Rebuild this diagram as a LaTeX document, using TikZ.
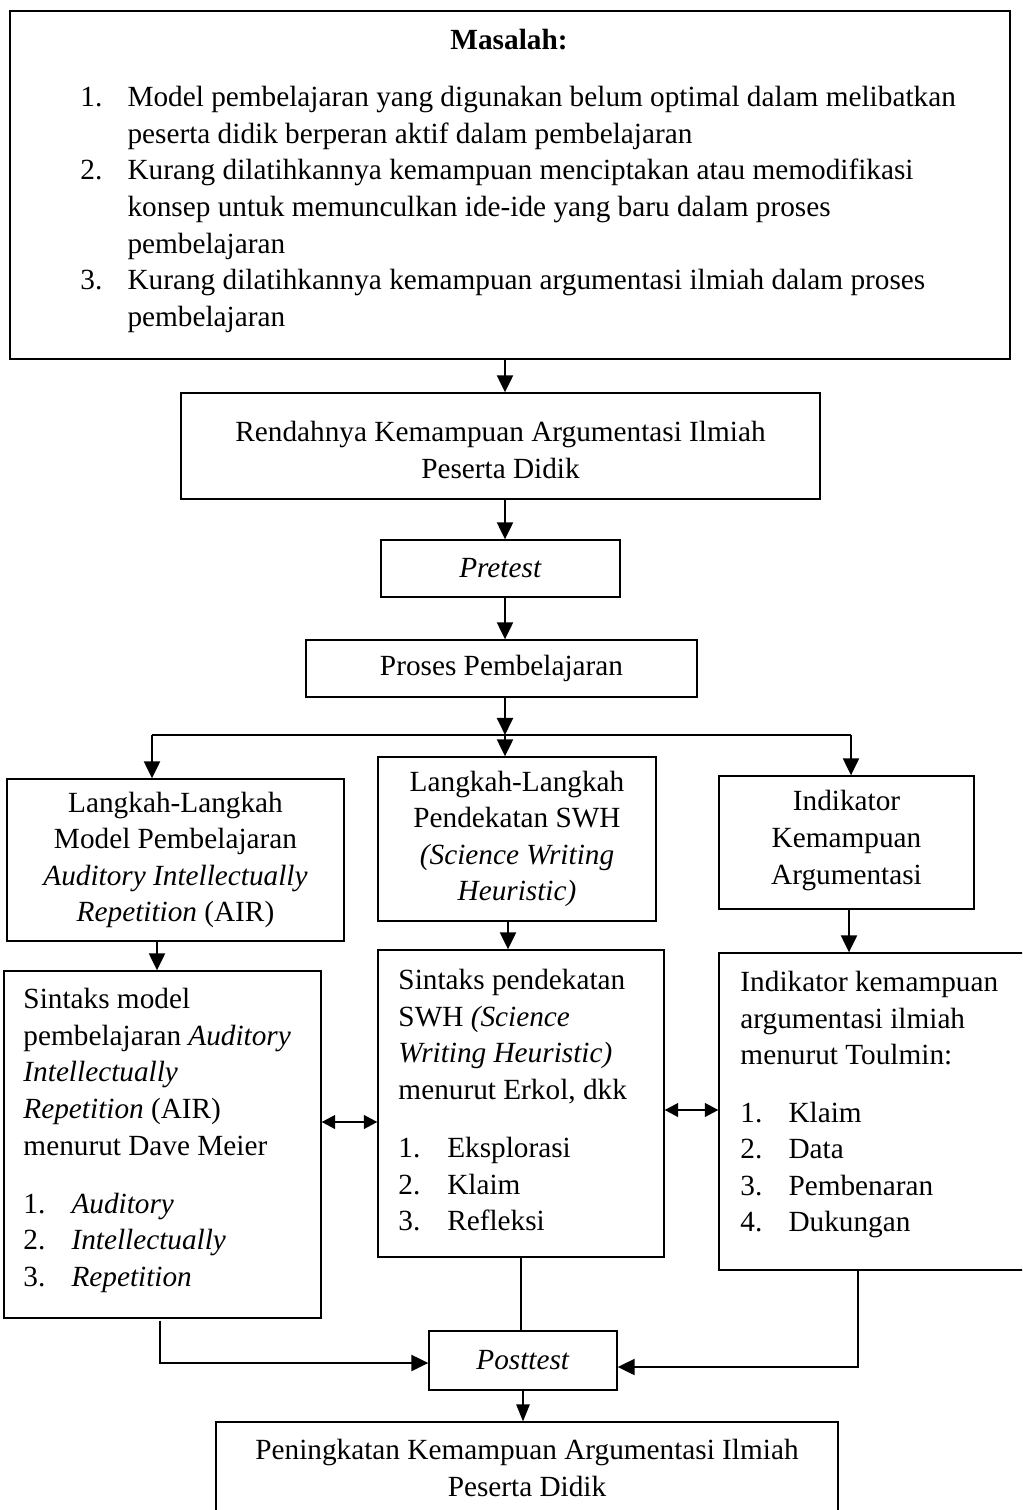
\documentclass[tikz,border=0pt]{standalone}
\usepackage{fontspec}
\setmainfont{Liberation Serif}
\usetikzlibrary{arrows.meta,fit,calc}
\begin{document}
\begin{tikzpicture}[x=0.41pt,y=-0.41pt,
  box/.style={draw, line width=0.5pt, inner sep=0pt},
  txt/.style={font=\fontsize{12pt}{15pt}\selectfont, inner sep=0pt},
  conn/.style={line width=1.1pt, -{Triangle[length=7pt,width=6.5pt]}},
  thinconn/.style={line width=0.6pt, -{Triangle[length=7pt,width=5.5pt]}},
  plainline/.style={line width=1.1pt},
  thinline/.style={line width=0.6pt},
  dbl/.style={line width=1pt, {Triangle[length=5.5pt,width=5.5pt]}-{Triangle[length=5.5pt,width=5.5pt]}},
]
\clip (0,0) rectangle (1022,1510);
\fill[white] (0,0) rectangle (1022,1510);

% top box
\node[box, fit={(10,11)(1010,359)}] (top) {};
\node[txt, anchor=base, font=\fontsize{12pt}{15pt}\selectfont\bfseries] (masalah) at (509,50) {Masalah:};
\node[txt, anchor=north west, align=left] (toplist) at (80,86) {%
\makebox[19.3pt][l]{1.}Model pembelajaran yang digunakan belum optimal dalam melibatkan\\
\hspace*{19.3pt}peserta didik berperan aktif dalam pembelajaran\\
\makebox[19.3pt][l]{2.}Kurang dilatihkannya kemampuan menciptakan atau memodifikasi\\
\hspace*{19.3pt}konsep untuk memunculkan ide-ide yang baru dalam proses\\
\hspace*{19.3pt}pembelajaran\\
\makebox[19.3pt][l]{3.}Kurang dilatihkannya kemampuan argumentasi ilmiah dalam proses\\
\hspace*{19.3pt}pembelajaran};

% chain
\node[box, fit={(181,393)(820,499)}] (b2) {};
\node[txt, align=center] (b2t) at ($(b2.center)+(0,4)$) {Rendahnya Kemampuan Argumentasi Ilmiah\\Peserta Didik};
\node[box, fit={(381,540)(620,597)}] (pre) {};
\node[txt] (pret) at (pre.center) {\textit{Pretest}};
\node[box, fit={(306,640)(697,697)}] (pro) {};
\node[txt] (prot) at (pro.center) {Proses Pembelajaran};

% second row
\node[box, fit={(7,779)(344,941)}] (L1) {};
\node[txt, align=center] (L1t) at (L1.center) {Langkah-Langkah\\Model Pembelajaran\\\textit{Auditory Intellectually}\\\textit{Repetition} (AIR)};
\node[box, fit={(378,757)(656,921)}] (M1) {};
\node[txt, align=center] (M1t) at (M1.center) {Langkah-Langkah\\Pendekatan SWH\\\textit{(Science Writing}\\\textit{Heuristic)}};
\node[box, fit={(719,776)(974,909)}] (R1) {};
\node[txt, align=center] (R1t) at ($(R1.center)+(0,-2)$) {Indikator\\Kemampuan\\Argumentasi};

% third row
\node[box, fit={(4,971)(321,1318)}] (L2) {};
\node[txt, anchor=north west, align=left] (L2t) at (23,988) {%
Sintaks model\\
pembelajaran \textit{Auditory}\\
\textit{Intellectually}\\
\textit{Repetition} (AIR)\\
menurut Dave Meier\\[8.8pt]
\makebox[19.7pt][l]{1.}\textit{Auditory}\\
\makebox[19.7pt][l]{2.}\textit{Intellectually}\\
\makebox[19.7pt][l]{3.}\textit{Repetition}};

\node[box, fit={(378,950)(664,1257)}] (M2) {};
\node[txt, anchor=north west, align=left] (M2t) at (398,969) {%
Sintaks pendekatan\\
SWH \textit{(Science}\\
\textit{Writing Heuristic)}\\
menurut Erkol, dkk\\[8.8pt]
\makebox[20pt][l]{1.}Eksplorasi\\
\makebox[20pt][l]{2.}Klaim\\
\makebox[20pt][l]{3.}Refleksi};

\node[box, fit={(719,953)(1060,1270)}] (R2) {};
\node[txt, anchor=north west, align=left] (R2t) at (740,971) {%
Indikator kemampuan\\
argumentasi ilmiah\\
menurut Toulmin:\\[8.4pt]
\makebox[19.7pt][l]{1.}Klaim\\
\makebox[19.7pt][l]{2.}Data\\
\makebox[19.7pt][l]{3.}Pembenaran\\
\makebox[19.7pt][l]{4.}Dukungan};

% posttest and result
\node[box, fit={(429,1331)(617,1390)}] (P) {};
\node[txt] (Pt) at (P.center) {\textit{Posttest}};
\node[box, fit={(216,1422)(838,1560)}] (B) {};
\node[txt, anchor=north, align=center] (Bt) at (527,1439) {Peningkatan Kemampuan Argumentasi Ilmiah\\Peserta Didik};

% helper coordinates
\coordinate (sp) at (505,0);
\coordinate (barC) at (505,735);
\coordinate (barL) at (152,735);
\coordinate (barR) at (851,735);
\coordinate (xl) at (157,0);
\coordinate (xm) at (508,0);
\coordinate (xr) at (849,0);
\coordinate (yl) at (0,1122);
\coordinate (yr) at (0,1110);
\coordinate (xlb) at (160,0);
\coordinate (xrb) at (858,0);
\coordinate (yp1) at (0,1363);
\coordinate (yp2) at (0,1367);

% connectors
\draw[conn] (top.south -| sp) -- (b2.north -| sp);
\draw[conn] (b2.south -| sp) -- (pre.north -| sp);
\draw[conn] (pre.south -| sp) -- (pro.north -| sp);
\draw[conn] (pro.south -| sp) -- (barC);
\draw[plainline] (barL) -- (barR);
\draw[conn] (barC) -- (M1.north -| barC);
\draw[conn] (barL) -- (L1.north -| barL);
\draw[conn] (barR) -- (R1.north -| barR);
\draw[conn] (L1.south -| xl) -- (L2.north -| xl);
\draw[conn] (M1.south -| xm) -- (M2.north -| xm);
\draw[conn] (R1.south -| xr) -- (R2.north -| xr);
\draw[dbl] (L2.east |- yl) -- (M2.west |- yl);
\draw[dbl] (M2.east |- yr) -- (R2.west |- yr);
\draw[thinline] (M2.south) -- (M2.south |- P.north);
\draw[conn] ($(L2.south -| xlb)+(0,2)$) -- (xlb |- yp1) -- (P.west |- yp1);
\draw[conn] (R2.south -| xrb) -- (xrb |- yp2) -- (P.east |- yp2);
\draw[thinconn] (P.south) -- (B.north -| P.south);
\end{tikzpicture}
\end{document}
